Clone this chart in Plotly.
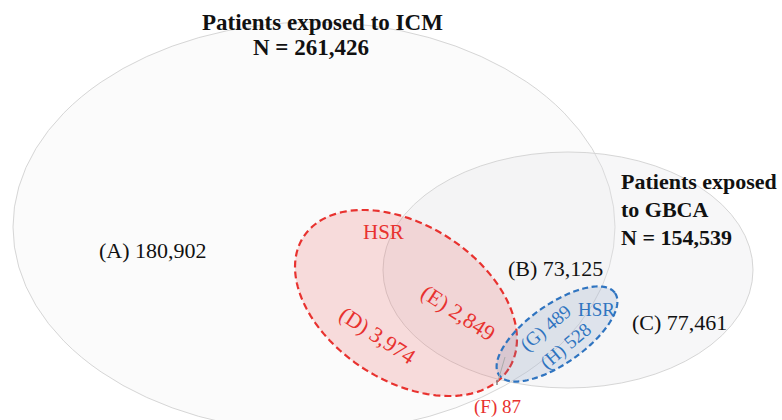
import numpy as np
import plotly.graph_objects as go

# ---- data ----
set_titles = [["Patients exposed to ICM"], ["Patients exposed", "to GBCA"]]
set_totals = [261426, 154539]
region_letters = ["A", "B", "C", "D", "E", "F", "G", "H"]
region_counts = [180902, 73125, 77461, 3974, 2849, 87, 489, 528]
hsr_label = "HSR"

W, H = 782, 420
SERIF = "Liberation Serif, Times New Roman, serif"
RED = "#e8322f"
BLUE = "#2f74c0"

def ellipse_path(cx, cy, a, b, deg, n=160):
    t = np.linspace(0, 2 * np.pi, n)
    th = np.deg2rad(deg)
    x = cx + a * np.cos(th) * np.cos(t) - b * np.sin(th) * np.sin(t)
    y = cy + a * np.sin(th) * np.cos(t) + b * np.cos(th) * np.sin(t)
    return "M " + " L ".join(f"{xi:.2f},{yi:.2f}" for xi, yi in zip(x, y)) + " Z"

fig = go.Figure()
fig.add_trace(go.Scatter(x=[0, W], y=[0, H], mode="markers",
                         marker=dict(opacity=0), hoverinfo="skip", showlegend=False))

shapes = []
# ICM set
shapes.append(dict(type="circle", xref="x", yref="y", x0=13, x1=615, y0=22, y1=432,
                   line=dict(color="#d6d6d6", width=1), fillcolor="rgba(240,240,240,0.25)"))
# GBCA set
shapes.append(dict(type="circle", xref="x", yref="y", x0=383, x1=753, y0=152, y1=388,
                   line=dict(color="#d6d6d6", width=1), fillcolor="rgba(229,230,233,0.32)"))
# HSR among ICM (red)
shapes.append(dict(type="path", xref="x", yref="y", path=ellipse_path(406, 303, 122, 78, 32.7),
                   line=dict(color=RED, width=2.2, dash="7px,4px"), fillcolor="rgba(232,100,100,0.21)"))
# HSR among GBCA (blue)
shapes.append(dict(type="path", xref="x", yref="y", path=ellipse_path(557, 334, 71, 29.5, -35.3),
                   line=dict(color=BLUE, width=2.2, dash="6px,3.5px"), fillcolor="rgba(110,140,185,0.18)"))
# leader for F
shapes.append(dict(type="line", xref="x", yref="y", x0=498, y0=381, x1=505, y1=357,
                   line=dict(color="#aaaaaa", width=1)))
shapes.append(dict(type="line", xref="x", yref="y", x0=497, y0=380, x1=497, y1=385,
                   line=dict(color="#888888", width=1.5)))

def fmt(v):
    return f"{v:,}"

ann = []
t_font = dict(family=SERIF, size=23, color="#111111")
ann.append(dict(x=322, y=22, text=f"<b>{set_titles[0][0]}</b>", font=t_font))
ann.append(dict(x=311, y=47, text=f"<b>N = {fmt(set_totals[0])}</b>", font=t_font))
r_font = dict(family=SERIF, size=22, color="#111111")
gb_lines = set_titles[1] + [f"N = {fmt(set_totals[1])}"]
for i, line in enumerate(gb_lines):
    ann.append(dict(x=619, y=181 + 28 * i, xanchor="left", text=f"<b>{line}</b>", font=r_font))

counts = dict(zip(region_letters, region_counts))
def lab(k):
    return f"({k}) {fmt(counts[k])}"

ann.append(dict(x=153, y=250, text=lab("A"), font=dict(family=SERIF, size=22, color="#111111")))
ann.append(dict(x=555, y=268, text=lab("B"), font=dict(family=SERIF, size=22, color="#111111")))
ann.append(dict(x=679, y=322, text=lab("C"), font=dict(family=SERIF, size=22, color="#111111")))
ann.append(dict(x=383, y=232, text=hsr_label, font=dict(family=SERIF, size=21, color=RED)))
ann.append(dict(x=378, y=335, text=lab("D"), textangle=33, font=dict(family=SERIF, size=22, color=RED)))
ann.append(dict(x=458, y=312, text=lab("E"), textangle=33, font=dict(family=SERIF, size=22, color=RED)))
ann.append(dict(x=497, y=407, text=lab("F"), font=dict(family=SERIF, size=19, color=RED)))
ann.append(dict(x=546, y=328, text=lab("G"), textangle=-40, font=dict(family=SERIF, size=19, color=BLUE)))
ann.append(dict(x=566, y=346, text=lab("H"), textangle=-40, font=dict(family=SERIF, size=19, color=BLUE)))
ann.append(dict(x=596, y=309, text=hsr_label, font=dict(family=SERIF, size=19, color=BLUE)))

for a in ann:
    a.update(xref="x", yref="y", showarrow=False)

fig.update_layout(
    width=W, height=H, autosize=False,
    margin=dict(l=0, r=0, t=0, b=0),
    paper_bgcolor="white", plot_bgcolor="white",
    xaxis=dict(range=[0, W], visible=False, fixedrange=True),
    yaxis=dict(range=[H, 0], visible=False, fixedrange=True),
    shapes=shapes, annotations=ann, showlegend=False,
)
fig.write_html("out.html", config={"displayModeBar": False},
               post_script="document.body.style.margin='0';document.body.style.overflow='hidden';")
